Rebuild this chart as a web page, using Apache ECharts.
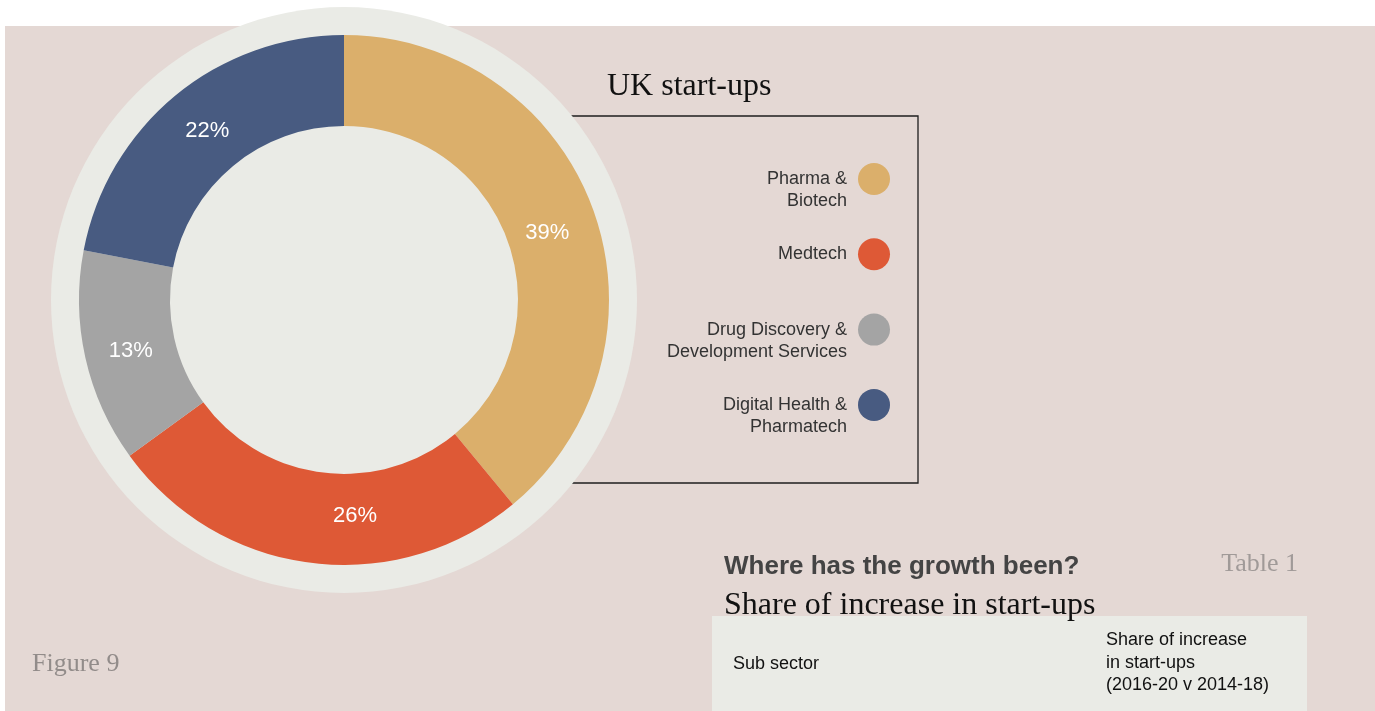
<!DOCTYPE html>
<html>
<head>
<meta charset="utf-8">
<title>UK start-ups</title>
<script src="https://cdn.jsdelivr.net/npm/echarts@6/dist/echarts.min.js"></script>
<style>
  html, body { margin: 0; padding: 0; background: #ffffff; }
  #chart { width: 1375px; height: 711px; }
</style>
</head>
<body>
<div id="chart"></div>
<script>
// Sub-sectors of UK start-ups and their share (%)
const sectors = ['Pharma & Biotech', 'Medtech', 'Drug Discovery & Development Services', 'Digital Health & Pharmatech'];
const legendLabels = ['Pharma &\nBiotech', 'Medtech', 'Drug Discovery &\nDevelopment Services', 'Digital Health &\nPharmatech'];
const shares = [39, 26, 13, 22];
const sectorColors = ['#DBAF6B', '#DE5936', '#A4A4A4', '#485B81'];

const tableHeaders = ['Sub sector', 'Share of increase\nin start-ups\n(2016-20 v 2014-18)'];

const PINK = '#E4D8D4';
const LIGHT = '#EAEBE6';
const SANS = '"Liberation Sans", Arial, Helvetica, sans-serif';
const SERIF = '"Liberation Serif", "Times New Roman", serif';

// small nudges for the in-ring percentage labels
const labelNudge = [[-6, 8], [39, -5], [4, 2], [5, 2]];

const chart = echarts.init(document.getElementById('chart'), null, { renderer: 'canvas' });

// Legend entries drawn on the right, dot after the text
const legendItems = [];
legendLabels.forEach((label, i) => {
  const cy = 179 + i * 75.3;
  legendItems.push({
    type: 'circle', z: 20, silent: true,
    shape: { cx: 874, cy: cy, r: 16 },
    style: { fill: sectorColors[i] }
  });
  legendItems.push({
    type: 'text', z: 20, silent: true,
    x: 847, y: cy - 11,
    style: {
      text: label, align: 'right', verticalAlign: 'top', lineHeight: 22,
      font: '18px ' + SANS, fill: '#333333'
    }
  });
});

const option = {
  animation: false,
  backgroundColor: '#ffffff',
  graphic: [
    // page panel
    { type: 'rect', z: 0, silent: true, shape: { x: 5, y: 26, width: 1370, height: 685 }, style: { fill: PINK } },
    // legend frame (left side tucked under the disc)
    { type: 'rect', z: 1, silent: true, shape: { x: 500, y: 116, width: 418, height: 367 },
      style: { fill: null, stroke: '#1e1e1e', lineWidth: 1.3 } },
    // pale disc behind the donut
    { type: 'circle', z: 2, silent: true, shape: { cx: 344, cy: 300, r: 293 }, style: { fill: LIGHT } },
    // title
    { type: 'text', z: 20, silent: true, x: 607, y: 87,
      style: { text: 'UK start-ups', font: '32px ' + SERIF, fill: '#111111', verticalAlign: 'middle' } },
    ...legendItems,
    // figure caption
    { type: 'text', z: 20, silent: true, x: 32, y: 664,
      style: { text: 'Figure 9', font: '26px ' + SERIF, fill: '#928C8A', verticalAlign: 'middle' } },
    // table block
    { type: 'text', z: 20, silent: true, x: 724, y: 567,
      style: { text: 'Where has the growth been?', font: 'bold 26px ' + SANS, fill: '#444444', verticalAlign: 'middle' } },
    { type: 'text', z: 20, silent: true, x: 1298, y: 564,
      style: { text: 'Table 1', font: '26px ' + SERIF, fill: '#A09A98', align: 'right', verticalAlign: 'middle' } },
    { type: 'text', z: 20, silent: true, x: 724, y: 606,
      style: { text: 'Share of increase in start-ups', font: '32px ' + SERIF, fill: '#111111', verticalAlign: 'middle' } },
    { type: 'rect', z: 15, silent: true, shape: { x: 712, y: 616, width: 595, height: 95 }, style: { fill: LIGHT } },
    { type: 'text', z: 20, silent: true, x: 733, y: 664,
      style: { text: tableHeaders[0], font: '18px ' + SANS, fill: '#111111', verticalAlign: 'middle' } },
    { type: 'text', z: 20, silent: true, x: 1106, y: 629,
      style: { text: tableHeaders[1], font: '18px ' + SANS, fill: '#111111', verticalAlign: 'top', lineHeight: 22.5 } }
  ],
  series: [{
    type: 'pie',
    z: 10,
    center: [344, 300],
    radius: [174, 265],
    startAngle: 90,
    clockwise: true,
    silent: true,
    avoidLabelOverlap: false,
    itemStyle: { borderWidth: 0 },
    label: {
      show: true,
      position: 'inside',
      formatter: '{c}%',
      color: '#ffffff',
      fontSize: 22,
      fontFamily: SANS
    },
    labelLine: { show: false },
    emphasis: { disabled: true },
    data: sectors.map((name, i) => ({
      name: name,
      value: shares[i],
      itemStyle: { color: sectorColors[i] },
      label: { offset: labelNudge[i] }
    }))
  }]
};

chart.setOption(option);
</script>
</body>
</html>
